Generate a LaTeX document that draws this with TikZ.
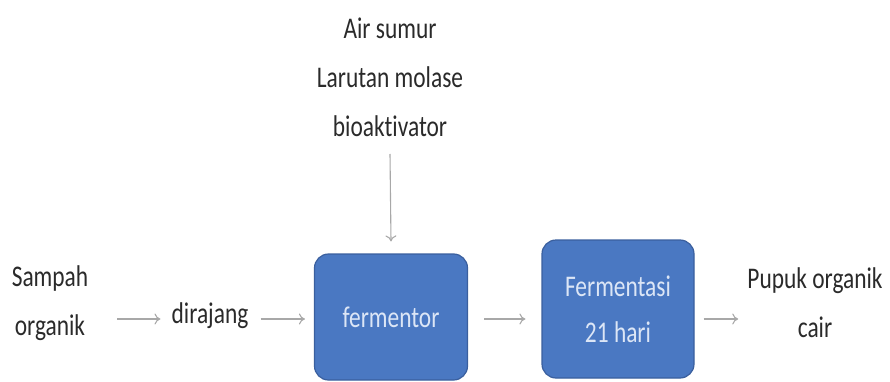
\documentclass[tikz,border=0pt]{standalone}
\usepackage{fontspec}
\setmainfont{Carlito}[FakeStretch=0.78, Ligatures=NoCommon]
\usetikzlibrary{arrows.meta}
\definecolor{boxblue}{HTML}{4A78C2}
\definecolor{boxedge}{HTML}{3A5F9E}
\definecolor{boxtext}{HTML}{DCE6F6}
\definecolor{arrowgray}{HTML}{A8A8A8}
\definecolor{txt}{HTML}{2A2A2A}
\tikzset{
  lbl/.style={inner sep=0pt, align=center, text=txt, font=\fontsize{30}{49}\selectfont},
  procbox/.style={draw=boxedge, line width=1.2pt, fill=boxblue, rounded corners=14pt,
    align=center, text=boxtext, font=\fontsize{30}{46}\selectfont, inner sep=0pt},
  flow/.style={draw=arrowgray, line width=1.1pt, -{To[length=6pt,width=11pt]}}
}
\begin{document}
\begin{tikzpicture}[x=1pt,y=-1pt]
\useasboundingbox (0,0) rectangle (890,382);
\node[lbl] (inputs) at (390,77) {Air sumur\\Larutan molase\\bioaktivator};
\node[lbl] (sampah) at (50,303) {Sampah\\organik};
\node[lbl] (dirajang) at (210,316) {dirajang};
\node[procbox, minimum width=153pt, minimum height=126pt] (fermentor) at (391,317) {fermentor};
\node[procbox, minimum width=152pt, minimum height=138pt] (fermentasi) at (618,309) {Fermentasi\\21 hari};
\node[lbl] (pupuk) at (815,303) {Pupuk organik\\cair};
\coordinate (rowy) at (0,319);
\coordinate (dropstart) at (390,154);
\draw[flow] ([xshift=29pt]sampah.east |- rowy) -- ([xshift=-11pt]dirajang.west |- rowy);
\draw[flow] ([xshift=12pt]dirajang.east |- rowy) -- ([xshift=-9pt]fermentor.west |- rowy);
\draw[flow] ([xshift=16pt]fermentor.east |- rowy) -- ([xshift=-16pt]fermentasi.west |- rowy);
\draw[flow] ([xshift=9pt]fermentasi.east |- rowy) -- ([xshift=-9pt]pupuk.west |- rowy);
\draw[flow] (dropstart) -- ([yshift=12pt]fermentor.north);
\end{tikzpicture}
\end{document}
